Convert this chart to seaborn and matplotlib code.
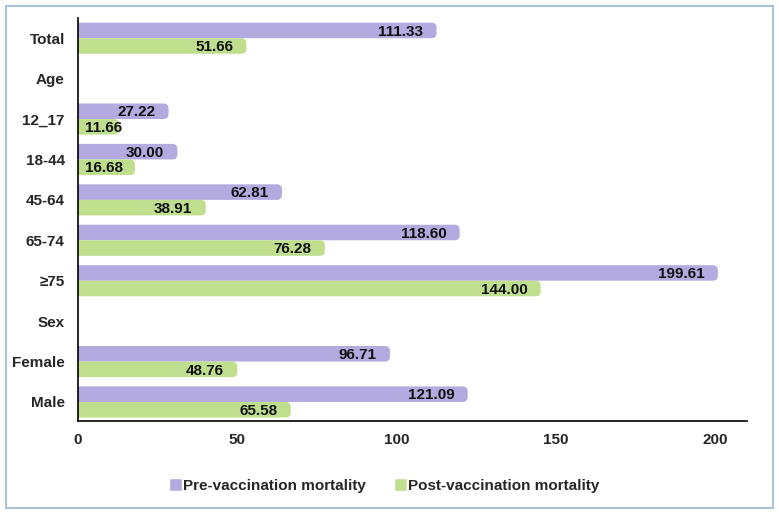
import numpy as np
import pandas as pd
import seaborn as sns
import matplotlib.pyplot as plt
from matplotlib.patches import FancyBboxPatch

categories = ['Total', 'Age', '12_17', '18-44', '45-64', '65-74', '≥75', 'Sex', 'Female', 'Male']
pre_vals   = [111.33, np.nan, 27.22, 30.00, 62.81, 118.60, 199.61, np.nan, 96.71, 121.09]
post_vals  = [51.66, np.nan, 11.66, 16.68, 38.91, 76.28, 144.00, np.nan, 48.76, 65.58]
series     = ['Pre-vaccination mortality', 'Post-vaccination mortality']
colors     = ['#b3aae0', '#bfdf8f']

df = pd.DataFrame({
    'Group': categories * 2,
    'Mortality': pre_vals + post_vals,
    'Series': [series[0]] * len(categories) + [series[1]] * len(categories),
})

sns.set_style('white')
plt.rcParams['font.family'] = ['Liberation Sans', 'DejaVu Sans']
plt.rcParams['font.weight'] = 'bold'

fig = plt.figure(figsize=(7.79, 5.14), dpi=100)
ax = fig.add_axes([0.1001, 0.181, 0.859, 0.784])

sns.barplot(data=df, y='Group', x='Mortality', hue='Series', order=categories,
            hue_order=series, palette=colors, width=0.77, orient='h',
            saturation=1, ax=ax)

n = len(categories)
ax.set_xlim(0, 210)
ax.set_ylim(n - 1 + 0.47, -0.5)

# y units per x unit on screen, so the rounded ends stay circular
bb = ax.get_window_extent()
aspect = ((n - 1 + 0.97) / bb.height) / (210 / bb.width)

# rounded bar ends + value labels at the inner end of each bar
for cont in ax.containers:
    for p in cont.patches:
        w = p.get_width()
        if np.isnan(w) or w == 0:
            continue
        p.set_visible(False)
        ax.add_patch(FancyBboxPatch((-4, p.get_y()), w + 5.2, p.get_height(),
                                    boxstyle='round,pad=0,rounding_size=1.6',
                                    mutation_aspect=aspect, facecolor=p.get_facecolor(),
                                    edgecolor='none', zorder=2))
        ax.text(max(w - 3, 14), p.get_y() + p.get_height() / 2 + 0.03, f'{w:.2f}',
                ha='right', va='center', fontsize=11, fontweight='bold', color='#111111', zorder=3)

ax.set_xticks([0, 50, 100, 150, 200])
ax.set_xlabel('')
ax.set_ylabel('')
ax.tick_params(axis='x', direction='in', length=5, width=1, pad=9, labelsize=11, color='black')
ax.tick_params(axis='y', length=0, pad=9.5, labelsize=11)
for lbl in ax.get_xticklabels() + ax.get_yticklabels():
    lbl.set_fontweight('bold')
sns.despine(ax=ax)
for s in ('left', 'bottom'):
    ax.spines[s].set_color('black')
    ax.spines[s].set_linewidth(1.2)
    ax.spines[s].set_zorder(4)

handles, labels = ax.get_legend_handles_labels()
ax.get_legend().remove()
fig.legend(handles, labels, loc='center', bbox_to_anchor=(0.493, 0.056), ncol=2,
           frameon=False, handlelength=0.9, handleheight=0.9,
           handletextpad=0.05, columnspacing=1.8, prop={'weight': 'bold', 'size': 11})

fig.patches.append(FancyBboxPatch((0.008, 0.012), 0.984, 0.976, boxstyle='square,pad=0',
                                  transform=fig.transFigure, fill=False,
                                  edgecolor='#a9c3d9', linewidth=1.5))

fig.savefig('out.png', dpi=100)
